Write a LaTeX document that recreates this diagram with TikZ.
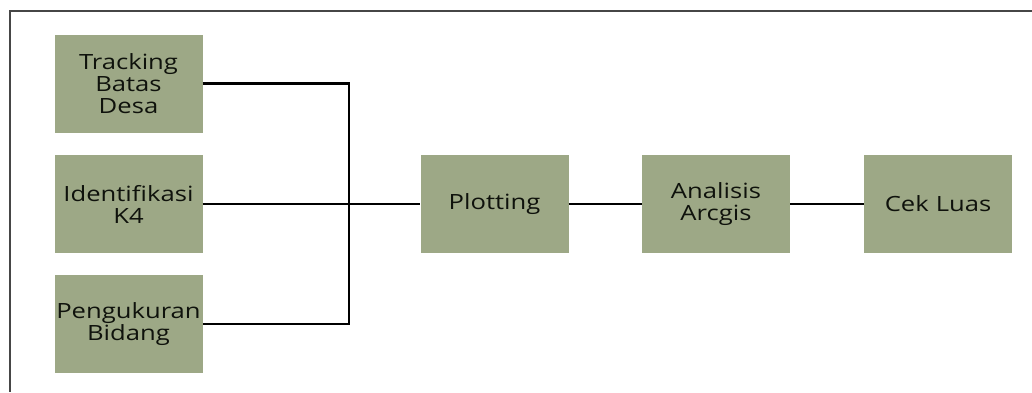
\documentclass[tikz,border=0pt]{standalone}
\usepackage{fontspec}
\setmainfont[FakeStretch=1.22]{Open Sans}
\definecolor{boxfill}{RGB}{157,168,134}
\definecolor{boxtext}{RGB}{15,18,12}
\definecolor{framegray}{RGB}{70,70,70}
\begin{document}
\begin{tikzpicture}[x=1pt,y=-1pt,
  stepbox/.style={rectangle, fill=boxfill, draw=none, inner sep=0pt,
    minimum width=148pt, minimum height=98pt, text width=146pt, align=center,
    text=boxtext, font=\fontsize{21}{22}\selectfont},
  conn/.style={draw=black, line width=2.2pt},
  framing/.style={draw=framegray, line width=2pt}]
\useasboundingbox (0,0) rectangle (1032,392);
% outer frame (top and left edges)
\draw[framing] (1032,11) -- (10,11) -- (10,392);
% input boxes
\node[stepbox] (track) at (128.5,83.5) {Tracking\\Batas\\Desa};
\node[stepbox] (ident) at (128.5,204) {Identifikasi\\K4};
\node[stepbox] (peng)  at (128.5,324) {Pengukuran\\Bidang};
% processing chain
\node[stepbox] (plot) at (494.5,204) {Plotting};
\node[stepbox] (anal) at (716,204) {Analisis\\Arcgis};
\node[stepbox] (cek)  at (938,204) {Cek Luas};
% collecting bus
\coordinate (bus) at (349,0);
\draw[conn] (track.east) -| (bus |- peng.east) -- (peng.east);
\draw[conn] (ident.east) -- (plot.west);
\draw[conn] (plot.east) -- (anal.west);
\draw[conn] (anal.east) -- (cek.west);
\end{tikzpicture}
\end{document}
